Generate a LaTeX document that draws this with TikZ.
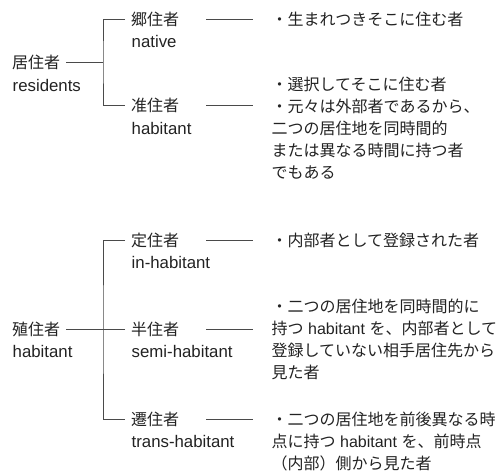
\documentclass[tikz,border=0pt]{standalone}
\usepackage{fontspec}
\setmainfont{Noto Sans CJK JP}
\newfontfamily\latn{Liberation Sans}
\definecolor{txt}{HTML}{222222}
\definecolor{ln}{HTML}{4A4A4A}
\begin{document}
\begin{tikzpicture}[x=1pt,y=-1pt,
  every node/.style={text=txt,font=\fontsize{16}{22}\selectfont},
  lab/.style={anchor=west,inner xsep=6pt,inner ysep=0pt},
  eng/.style={anchor=base west,inner sep=0pt,font=\fontsize{16.8}{22}\selectfont\latn},
  childlab/.style={anchor=west,inner xsep=6pt,inner ysep=0pt,text width=69pt,align=left},
  desc/.style={anchor=north west,inner xsep=18.5pt,inner ysep=0pt,align=left},
  conn/.style={draw=ln,line width=0.9pt}]
\useasboundingbox (0,0) rectangle (499,471);
% upper group
\node[lab] (resJ) at (6,62) {居住者};
\node[eng] (resE) at (12.5,91) {residents};
\node[childlab] (natJ) at (125,19) {郷住者};
\node[eng] (natE) at (131.5,47.5) {native};
\node[childlab] (habJ) at (125,105.5) {准住者};
\node[eng] (habE) at (131.5,134) {habitant};
\node[desc] (natD) at (253,11.5) {・生まれつきそこに住む者};
\node[desc] (habD) at (253,76.5) {・選択してそこに住む者\\・元々は外部者であるから、\\二つの居住地を同時間的\\または異なる時間に持つ者\\でもある};
\coordinate (br1) at (103,62);
\draw[conn] (resJ.east) -- (br1);
\draw[conn] (natJ.west) -| (br1) |- (habJ.west);
\draw[conn] (natJ.east) -- (natJ.east -| natD.west);
\draw[conn] (habJ.east) -- (habJ.east -| habD.west);
% lower group
\node[lab] (colJ) at (6,329) {殖住者};
\node[eng] (colE) at (12.5,357.5) {habitant};
\node[childlab] (inhJ) at (125,240) {定住者};
\node[eng] (inhE) at (131.5,268.5) {in-habitant};
\node[childlab] (semJ) at (125,329) {半住者};
\node[eng] (semE) at (131.5,357.5) {semi-habitant};
\node[childlab] (traJ) at (125,419) {遷住者};
\node[eng] (traE) at (131.5,447.5) {trans-habitant};
\node[desc] (inhD) at (253,232.5) {・内部者として登録された者};
\node[desc] (semD) at (253,298.5) {・二つの居住地を同時間的に\\持つ{\latn\ habitant }を、内部者として\\登録していない相手居住先から\\見た者};
\node[desc] (traD) at (253,411.5) {・二つの居住地を前後異なる時\\点に持つ{\latn\ habitant }を、前時点\\（内部）側から見た者};
\coordinate (br2) at (103,329);
\draw[conn] (colJ.east) -- (br2);
\draw[conn] (inhJ.west) -| (br2) |- (traJ.west);
\draw[conn] (semJ.west) -- (br2);
\draw[conn] (inhJ.east) -- (inhJ.east -| inhD.west);
\draw[conn] (semJ.east) -- (semJ.east -| semD.west);
\draw[conn] (traJ.east) -- (traJ.east -| traD.west);
\end{tikzpicture}
\end{document}
